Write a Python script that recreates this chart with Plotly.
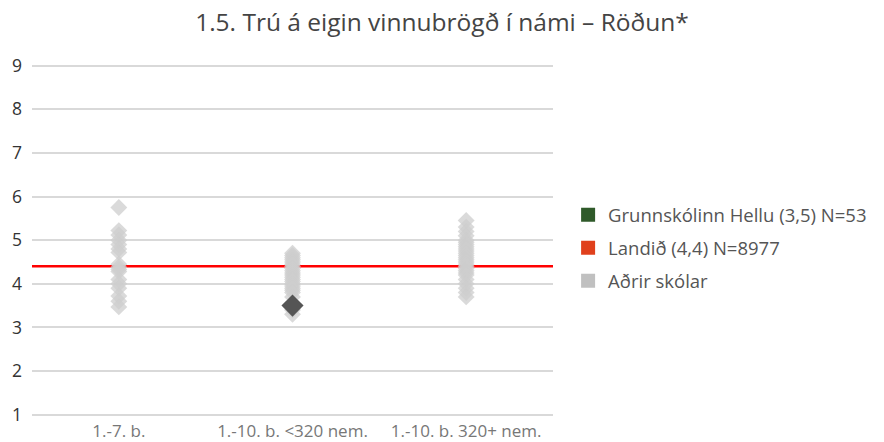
import plotly.graph_objects as go

# Categories on the x axis
categories = ["1.-7. b.", "1.-10. b. <320 nem.", "1.-10. b. 320+ nem."]

# Other schools, one list per category
others_cat1 = [5.75, 5.22, 5.12, 5.0, 4.9, 4.8, 4.72, 4.45, 4.38, 4.33, 4.28,
               4.1, 4.0, 3.9, 3.72, 3.6, 3.47]
others_cat2 = [4.7, 4.65, 4.6, 4.55, 4.5, 4.45, 4.4, 4.35, 4.3, 4.25, 4.2, 4.15,
               4.1, 4.05, 4.0, 3.95, 3.9, 3.85, 3.8, 3.7, 3.4, 3.3]
others_cat3 = [5.45, 5.3, 5.2, 5.1, 5.0, 4.95, 4.9, 4.85, 4.8, 4.75, 4.7, 4.65,
               4.6, 4.55, 4.5, 4.45, 4.4, 4.35, 4.3, 4.25, 4.2, 4.1, 4.0, 3.9,
               3.8, 3.7]

# The school itself and the national average
school_category = "1.-10. b. <320 nem."
school_value = 3.5
national_value = 4.4

legend_labels = ["Grunnskólinn Hellu (3,5) N=53", "Landið (4,4) N=8977", "Aðrir skólar"]
legend_colors = ["#2f5a2a", "#e0401c", "#c0c0c0"]

font_family = "'Open Sans', Lato, sans-serif"

fig = go.Figure()

# gray points for other schools
xs, ys = [], []
for cat, vals in zip(categories, [others_cat1, others_cat2, others_cat3]):
    xs += [cat] * len(vals)
    ys += vals
fig.add_trace(go.Scatter(
    x=xs, y=ys, mode="markers", showlegend=False,
    marker=dict(symbol="diamond", size=13, color="rgba(205,205,205,0.75)", line=dict(width=0)),
))

# highlighted school
fig.add_trace(go.Scatter(
    x=[school_category], y=[school_value], mode="markers", showlegend=False,
    marker=dict(symbol="diamond", size=17, color="#555555", line=dict(width=0)),
))

# legend-only entries with square swatches
for label, color in zip(legend_labels, legend_colors):
    fig.add_trace(go.Scatter(
        x=[None], y=[None], mode="markers", name=label, legendgroup=label,
        marker=dict(symbol="square", size=14, color=color),
    ))

# national average line, under the markers
fig.add_shape(type="line", xref="paper", x0=0, x1=1, yref="y",
              y0=national_value, y1=national_value,
              line=dict(color="#ff0000", width=2.5), layer="below")

fig.update_xaxes(
    type="category", categoryorder="array", categoryarray=categories,
    range=[-0.5, 2.5], automargin=False,
    showgrid=False, zeroline=False, showline=False, ticks="",
    tickfont=dict(size=17, color="#777777", family=font_family),
)
fig.update_yaxes(
    range=[0.9, 9.2], tickvals=list(range(1, 10)), automargin=False,
    showgrid=True, gridcolor="#d9d9d9", gridwidth=2, zeroline=False,
    showline=False, ticks="",
    tickfont=dict(size=17.5, color="#333333", family=font_family),
    ticklabelstandoff=9,
)

fig.update_layout(
    width=884, height=442,
    title=dict(text="1.5. Trú á eigin vinnubrögð í námi – Röðun*",
               x=0.5, xanchor="center", y=0.95, yanchor="middle",
               font=dict(size=24.5, color="#444444", family=font_family),
               automargin=False),
    plot_bgcolor="white", paper_bgcolor="white",
    margin=dict(l=32, r=328, t=57, b=23),
    legend=dict(x=1.029, xanchor="left", y=0.472, yanchor="middle",
                font=dict(size=18.5, color="#555555", family=font_family),
                tracegroupgap=6, itemwidth=30),
)

# remove the browser's default body margin so the figure sits at the page corner
fig.write_html("out.html", config={"displayModeBar": False},
               post_script="document.body.style.margin='0';")
